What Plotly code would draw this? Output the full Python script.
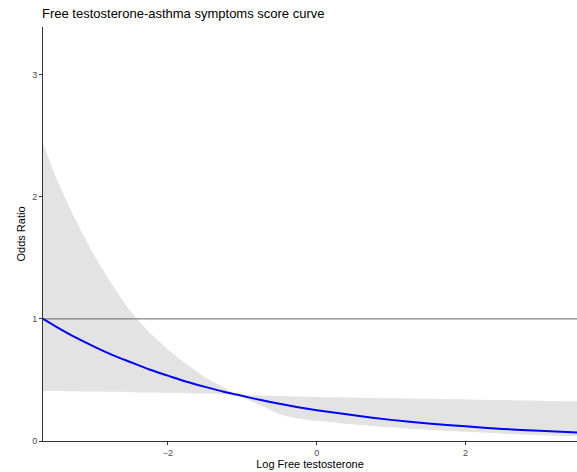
import plotly.graph_objects as go

# Log free testosterone grid and estimated odds ratios with 95% CI
log_ft = [-3.68, -3.5, -3.25, -3.0, -2.75, -2.5, -2.25, -2.0, -1.75, -1.5, -1.25, -1.06,
          -0.9, -0.75, -0.5, -0.25, 0.0, 0.5, 1.0, 1.5, 2.0, 2.5, 3.0, 3.5]
odds_ratio = [1.0, 0.935, 0.85, 0.775, 0.705, 0.645, 0.585, 0.535, 0.485, 0.443, 0.403, 0.378,
              0.355, 0.335, 0.305, 0.277, 0.252, 0.21, 0.173, 0.143, 0.12, 0.099, 0.083, 0.069]
ci_upper = [2.44, 2.15, 1.82, 1.53, 1.28, 1.06, 0.89, 0.75, 0.63, 0.52, 0.44, 0.378,
            0.375, 0.372, 0.368, 0.364, 0.36, 0.355, 0.35, 0.345, 0.34, 0.335, 0.33, 0.325]
ci_lower = [0.41, 0.41, 0.408, 0.405, 0.403, 0.40, 0.397, 0.395, 0.392, 0.388, 0.383, 0.378,
            0.33, 0.29, 0.22, 0.185, 0.165, 0.135, 0.11, 0.09, 0.075, 0.06, 0.048, 0.04]

x_ticks = [-2, 0, 2]
y_ticks = [0, 1, 2, 3]
ref_or = 1

FONT = "Liberation Sans, Arial, sans-serif"
BAND = "#E3E3E3"

fig = go.Figure()

# confidence band
fig.add_trace(go.Scatter(
    x=log_ft, y=ci_lower, mode="lines",
    line=dict(width=0, color=BAND, shape="spline", smoothing=0.5),
    hoverinfo="skip", showlegend=False,
))
fig.add_trace(go.Scatter(
    x=log_ft, y=ci_upper, mode="lines", fill="tonexty", fillcolor=BAND,
    line=dict(width=0, color=BAND, shape="spline", smoothing=0.5),
    hoverinfo="skip", showlegend=False,
))

# reference line at OR = 1
fig.add_trace(go.Scatter(
    x=[log_ft[0], log_ft[-1]], y=[ref_or, ref_or], mode="lines",
    line=dict(color="#666666", width=1),
    hoverinfo="skip", showlegend=False,
))

# fitted odds ratio curve
fig.add_trace(go.Scatter(
    x=log_ft, y=odds_ratio, mode="lines",
    line=dict(color="#0000FF", width=2, shape="spline", smoothing=0.5),
    showlegend=False,
))

fig.update_layout(
    width=577, height=472,
    margin=dict(l=43, r=0, t=27, b=31),
    paper_bgcolor="white", plot_bgcolor="white",
    font=dict(family=FONT, color="#000000"),
    title=dict(
        text="Free testosterone-asthma symptoms score curve",
        x=42 / 577, xanchor="left", xref="container",
        y=1 - 13 / 472, yanchor="middle", yref="container",
        font=dict(size=13, color="#000000", family=FONT),
    ),
    xaxis=dict(
        range=[-3.68, 3.5], tickvals=x_ticks,
        showgrid=False, zeroline=False,
        showline=True, linecolor="#333333", linewidth=1.1,
        ticks="outside", ticklen=3, tickcolor="#333333", tickwidth=1,
        tickfont=dict(size=9, color="#4D4D4D", family=FONT),
        title=dict(text="Log Free testosterone", standoff=1,
                   font=dict(size=11, color="#000000", family=FONT)),
    ),
    yaxis=dict(
        range=[0, 3.39], tickvals=y_ticks,
        showgrid=False, zeroline=False,
        showline=True, linecolor="#333333", linewidth=1.1,
        ticks="outside", ticklen=3, tickcolor="#333333", tickwidth=1,
        tickfont=dict(size=9, color="#4D4D4D", family=FONT),
        title=dict(text="Odds Ratio", standoff=4,
                   font=dict(size=11, color="#000000", family=FONT)),
    ),
)

fig.write_html("out.html")
